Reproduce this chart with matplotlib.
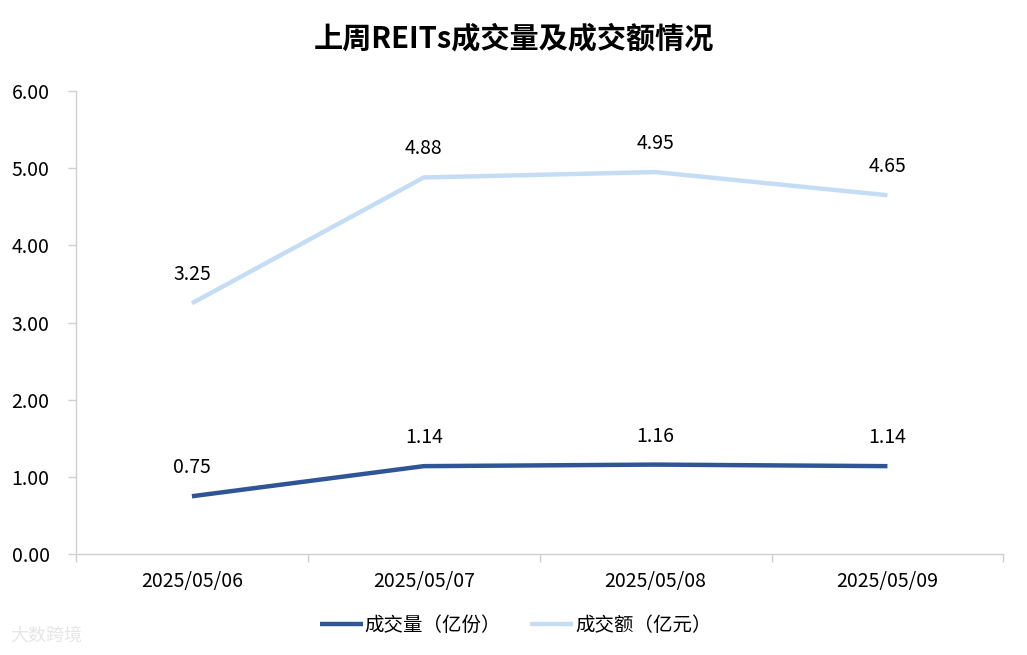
import matplotlib.pyplot as plt
import numpy as np

plt.rcParams['font.family'] = ['Noto Sans CJK SC', 'DejaVu Sans']

dates = ['2025/05/06', '2025/05/07', '2025/05/08', '2025/05/09']
volume = [0.75, 1.14, 1.16, 1.14]      # 成交量（亿份）
turnover = [3.25, 4.88, 4.95, 4.65]    # 成交额（亿元）

fig = plt.figure(figsize=(10.27, 6.55), dpi=100)
ax = fig.add_axes([0.074, 0.154, 0.903, 0.707])

x = np.arange(len(dates))
ax.plot(x, volume, color='#2F5597', linewidth=3.2, label='成交量（亿份）', solid_capstyle='butt')
ax.plot(x, turnover, color='#C5DCF5', linewidth=3.2, label='成交额（亿元）', solid_capstyle='butt')

for xi, v in zip(x, volume):
    ax.annotate(f'{v:.2f}', (xi, v), xytext=(0, 13), textcoords='offset points',
                ha='center', va='bottom', fontsize=14, color='#000000')
for xi, v in zip(x, turnover):
    ax.annotate(f'{v:.2f}', (xi, v), xytext=(0, 13), textcoords='offset points',
                ha='center', va='bottom', fontsize=14, color='#000000')

ax.set_xlim(-0.5, len(dates) - 0.5)
ax.set_ylim(0, 6)
ax.set_yticks(np.arange(0, 6.01, 1))
ax.set_yticklabels([f'{v:.2f}' for v in np.arange(0, 6.01, 1)], fontsize=14)

ax.set_xticks(x)
ax.set_xticklabels(dates, fontsize=14)
ax.tick_params(axis='x', which='major', length=0, pad=12)
ax.set_xticks(np.arange(-0.5, len(dates), 1), minor=True)
ax.tick_params(axis='x', which='minor', length=6, color='#D0D0D0', width=1)
ax.tick_params(axis='y', length=6, color='#D0D0D0', width=1, pad=13)

for s in ['top', 'right']:
    ax.spines[s].set_visible(False)
for s in ['left', 'bottom']:
    ax.spines[s].set_color('#D0D0D0')
    ax.spines[s].set_linewidth(1)

fig.suptitle('上周REITs成交量及成交额情况', fontsize=21, fontweight='bold', y=0.965)

fig.legend(loc='center', bbox_to_anchor=(0.502, 0.045), ncol=2, frameon=False,
           fontsize=14, handlelength=2.2, columnspacing=1.5, handletextpad=0.1)

fig.text(0.01, 0.03, '大数跨境', fontsize=13, color='#E6E6E6', ha='left', va='center')

fig.savefig('out.png', dpi=100)
